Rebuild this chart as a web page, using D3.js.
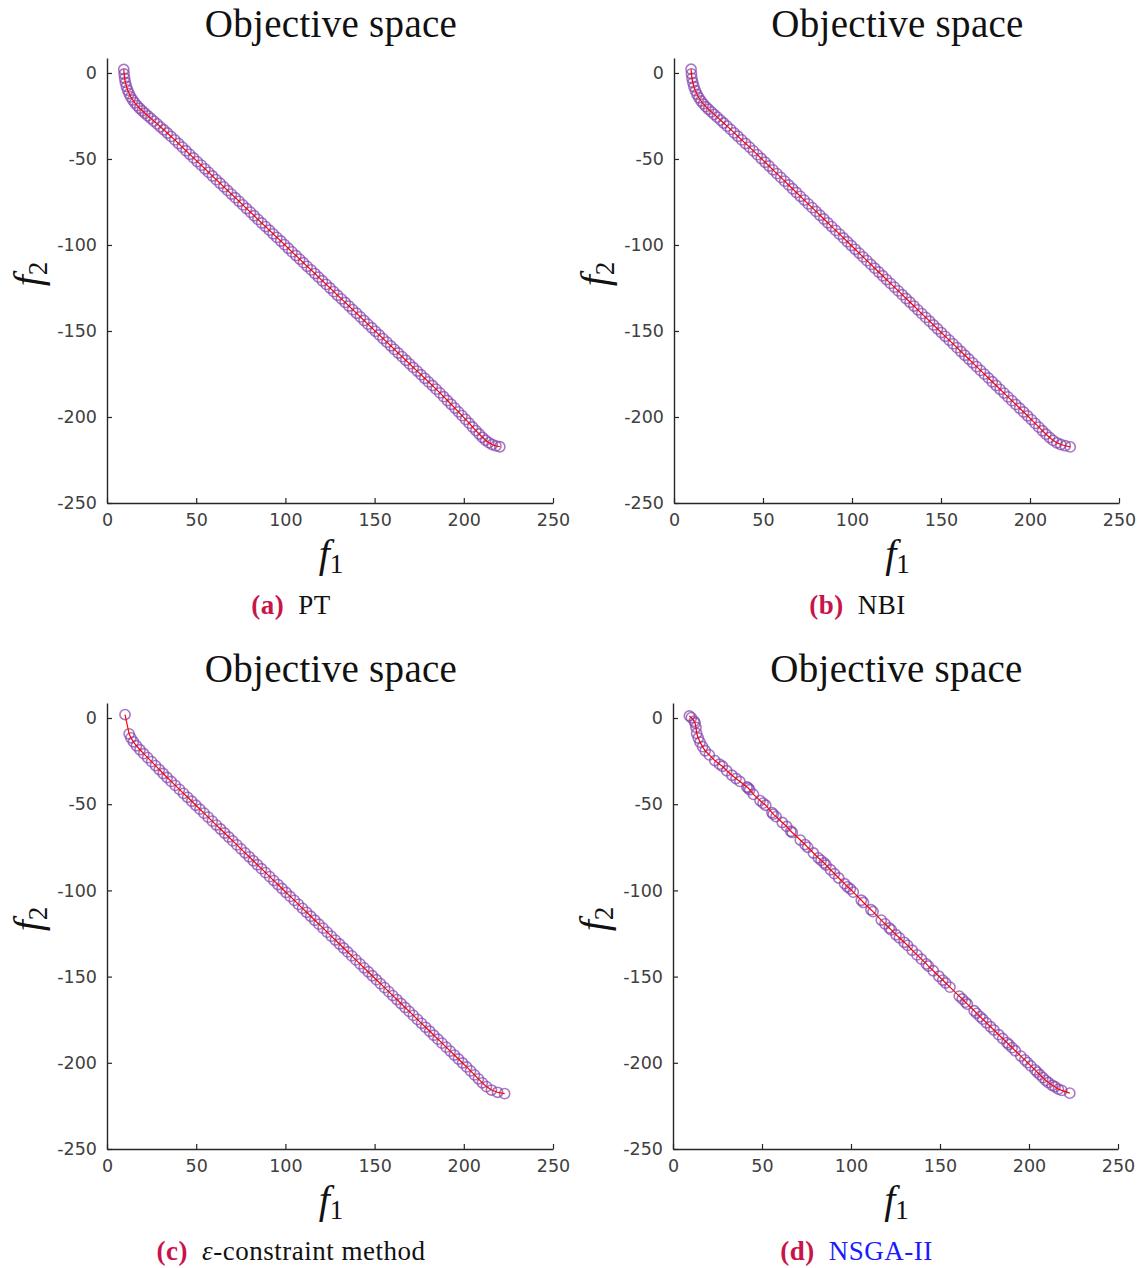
<!DOCTYPE html>
<html>
<head>
<meta charset="utf-8">
<script src="https://cdn.jsdelivr.net/npm/d3@7"></script>
<style>
  html, body { margin: 0; padding: 0; background: #ffffff; }
  svg { display: block; }
</style>
</head>
<body>
<div id="chart"></div>
<script>
// Pareto front approximations (f1, f2) obtained by each method.
const ptFront = [
  [9.4, 2.0], [9.6, -0.6], [9.9, -3.1], [10.3, -5.5], [10.9, -7.8], [11.6, -10.0], [12.4, -12.0],
  [13.3, -13.9], [14.4, -15.7], [15.6, -17.4], [16.9, -19.0], [18.3, -20.5], [19.8, -22.0],
  [21.3, -23.4], [22.9, -24.9], [24.6, -26.4], [26.3, -28.0], [28.1, -29.6], [29.9, -31.3],
  [31.8, -33.0], [33.8, -34.9], [35.9, -36.9], [38.0, -38.9], [40.1, -41.0], [42.2, -43.1],
  [44.3, -45.2], [46.4, -47.3], [48.5, -49.4], [50.6, -51.5], [52.8, -53.6], [54.9, -55.7],
  [57.0, -57.8], [59.1, -59.9], [61.2, -62.0], [63.4, -64.1], [65.5, -66.2], [67.6, -68.3],
  [69.7, -70.4], [71.9, -72.5], [74.0, -74.6], [76.1, -76.7], [78.2, -78.8], [80.4, -80.9],
  [82.5, -83.0], [84.6, -85.1], [86.7, -87.2], [88.9, -89.3], [91.0, -91.4], [93.1, -93.5],
  [95.2, -95.6], [97.4, -97.7], [99.5, -99.8], [101.6, -101.9], [103.7, -104.0], [105.9, -106.1],
  [108.0, -108.2], [110.1, -110.3], [112.2, -112.4], [114.4, -114.5], [116.5, -116.6],
  [118.6, -118.7], [120.7, -120.8], [122.9, -122.9], [125.0, -125.0], [127.1, -127.1],
  [129.2, -129.2], [131.4, -131.3], [133.5, -133.4], [135.6, -135.5], [137.7, -137.6],
  [139.9, -139.7], [142.0, -141.8], [144.1, -143.9], [146.2, -146.0], [148.4, -148.1],
  [150.5, -150.2], [152.6, -152.3], [154.7, -154.4], [156.9, -156.5], [159.0, -158.6],
  [161.1, -160.7], [163.2, -162.8], [165.4, -164.9], [167.5, -167.0], [169.6, -169.1],
  [171.7, -171.2], [173.9, -173.3], [176.0, -175.4], [178.1, -177.5], [180.2, -179.6],
  [182.4, -181.7], [184.5, -183.8], [186.6, -186.0], [188.7, -188.2], [190.8, -190.4],
  [192.9, -192.6], [195.0, -194.8], [197.0, -197.0], [199.0, -199.2], [201.0, -201.4],
  [203.0, -203.6], [204.9, -205.8], [206.8, -207.9], [208.6, -209.9], [210.4, -211.8],
  [212.2, -213.5], [214.0, -214.9], [215.9, -216.0], [218.0, -216.8], [220.2, -217.3]
];

const nbiFront = [
  [9.6, 2.2], [9.8, -0.5], [10.1, -3.1], [10.6, -5.6], [11.2, -8.0], [12.0, -10.3], [12.9, -12.4],
  [14.0, -14.4], [15.2, -16.3], [16.5, -18.0], [17.9, -19.6], [19.4, -21.1], [21.0, -22.6],
  [22.6, -24.1], [24.3, -25.7], [26.1, -27.4], [27.9, -29.1], [29.8, -30.9], [31.8, -32.8],
  [33.8, -34.8], [35.9, -36.8], [38.0, -38.9], [40.2, -41.0], [42.4, -43.1], [44.6, -45.3],
  [46.8, -47.5], [49.0, -49.7], [51.2, -51.9], [53.4, -54.1], [55.6, -56.3], [57.8, -58.5],
  [60.0, -60.7], [62.2, -62.9], [64.4, -65.1], [66.6, -67.3], [68.8, -69.5], [71.0, -71.7],
  [73.2, -73.9], [75.4, -76.1], [77.6, -78.3], [79.8, -80.5], [82.0, -82.7], [84.2, -84.9],
  [86.4, -87.1], [88.6, -89.3], [90.8, -91.5], [93.0, -93.7], [95.2, -95.9], [97.4, -98.1],
  [99.6, -100.3], [101.8, -102.5], [104.0, -104.7], [106.2, -106.9], [108.4, -109.1],
  [110.6, -111.3], [112.8, -113.5], [115.0, -115.7], [117.2, -117.9], [119.4, -120.1],
  [121.6, -122.3], [123.8, -124.5], [126.0, -126.7], [128.2, -128.9], [130.4, -131.1],
  [132.6, -133.3], [134.8, -135.5], [137.0, -137.7], [139.2, -139.9], [141.4, -142.1],
  [143.6, -144.3], [145.8, -146.5], [148.0, -148.7], [150.2, -150.9], [152.4, -153.1],
  [154.6, -155.3], [156.8, -157.5], [159.0, -159.7], [161.2, -161.9], [163.4, -164.1],
  [165.6, -166.3], [167.8, -168.5], [170.0, -170.7], [172.2, -172.9], [174.4, -175.1],
  [176.6, -177.3], [178.8, -179.5], [181.0, -181.7], [183.2, -183.9], [185.4, -186.1],
  [187.6, -188.3], [189.8, -190.5], [192.0, -192.7], [194.2, -194.9], [196.4, -197.1],
  [198.6, -199.3], [200.8, -201.5], [202.9, -203.7], [205.0, -205.9], [207.0, -208.0],
  [209.0, -210.0], [211.0, -211.9], [213.0, -213.6], [215.1, -215.0], [217.3, -216.0],
  [219.8, -216.7], [222.6, -217.4]
];

const epsFront = [
  [10.1, 2.0], [12.4, -9.2], [13.4, -11.5], [14.8, -13.8], [16.5, -16.1], [18.5, -18.4],
  [20.6, -20.7], [22.8, -23.0], [25.0, -25.3], [27.2, -27.6], [29.3, -29.9], [31.5, -32.2],
  [33.7, -34.5], [36.0, -36.8], [38.3, -39.1], [40.6, -41.4], [42.9, -43.7], [45.2, -46.0],
  [47.5, -48.3], [49.8, -50.6], [52.1, -52.9], [54.4, -55.2], [56.7, -57.5], [59.0, -59.8],
  [61.3, -62.1], [63.6, -64.4], [65.9, -66.7], [68.2, -69.0], [70.5, -71.3], [72.8, -73.6],
  [75.1, -75.9], [77.4, -78.2], [79.7, -80.5], [82.0, -82.8], [84.3, -85.1], [86.6, -87.4],
  [88.9, -89.7], [91.2, -92.0], [93.5, -94.3], [95.8, -96.6], [98.1, -98.9], [100.4, -101.2],
  [102.7, -103.5], [105.0, -105.8], [107.3, -108.1], [109.6, -110.4], [111.9, -112.7],
  [114.2, -115.0], [116.5, -117.3], [118.8, -119.6], [121.1, -121.9], [123.4, -124.2],
  [125.7, -126.5], [128.0, -128.8], [130.3, -131.1], [132.6, -133.4], [134.9, -135.7],
  [137.2, -138.0], [139.5, -140.3], [141.8, -142.6], [144.1, -144.9], [146.4, -147.2],
  [148.7, -149.5], [151.0, -151.8], [153.3, -154.1], [155.6, -156.4], [157.9, -158.7],
  [160.2, -161.0], [162.5, -163.3], [164.8, -165.6], [167.1, -167.9], [169.4, -170.2],
  [171.7, -172.5], [174.0, -174.8], [176.3, -177.1], [178.6, -179.4], [180.9, -181.7],
  [183.2, -184.0], [185.5, -186.3], [187.8, -188.6], [190.1, -190.9], [192.4, -193.2],
  [194.7, -195.5], [197.0, -197.8], [199.3, -200.1], [201.6, -202.4], [203.8, -204.7],
  [206.0, -207.0], [208.2, -209.3], [210.4, -211.6], [212.7, -213.8], [215.5, -215.8],
  [218.9, -217.1], [222.9, -217.9]
];

const nsgaFront = [
  [9.2, 1.2], [10.3, 0.2], [11.9, -1.8], [12.4, -2.9], [12.9, -5.4], [13.3, -8.9], [14.2, -11.6],
  [15.2, -14.0], [16.6, -16.6], [18.1, -19.0], [20.4, -21.4], [23.5, -24.7], [26.1, -26.8],
  [27.8, -28.0], [30.2, -30.6], [33.1, -33.2], [35.4, -35.1], [37.6, -36.8], [41.5, -40.0],
  [42.3, -40.6], [43.1, -41.6], [45.2, -44.3], [48.9, -47.9], [50.6, -49.4], [52.1, -50.6],
  [55.6, -54.9], [56.3, -55.8], [57.9, -57.2], [61.4, -60.6], [63.9, -62.9], [66.2, -65.7],
  [67.0, -66.4], [71.5, -70.8], [74.2, -73.4], [75.7, -75.0], [78.9, -78.3], [81.6, -81.1],
  [83.2, -82.6], [84.9, -84.1], [86.0, -85.3], [88.5, -88.0], [90.7, -90.3], [93.1, -92.8],
  [96.4, -96.1], [98.0, -97.9], [99.6, -99.2], [101.3, -101.0], [105.8, -105.7], [107.0, -107.0],
  [111.2, -111.2], [112.4, -112.3], [117.0, -117.2], [119.1, -119.4], [121.5, -121.8],
  [122.6, -122.9], [125.3, -125.7], [127.2, -127.5], [129.9, -130.1], [131.8, -131.9],
  [134.4, -134.7], [137.1, -137.4], [139.6, -139.9], [142.3, -142.6], [143.5, -143.9],
  [146.2, -146.6], [149.4, -149.8], [151.5, -152.0], [153.2, -153.7], [155.6, -156.1],
  [160.8, -161.3], [162.5, -163.0], [164.3, -164.8], [165.4, -166.0], [169.2, -169.8],
  [170.6, -171.3], [172.5, -173.2], [174.0, -174.7], [176.1, -176.8], [178.4, -179.1],
  [180.3, -181.0], [183.0, -183.7], [185.2, -185.9], [187.6, -188.3], [188.7, -189.4],
  [190.5, -191.2], [192.3, -193.0], [195.4, -196.1], [197.6, -198.3], [199.2, -199.9],
  [201.0, -201.8], [203.4, -204.1], [204.6, -205.4], [206.1, -206.9], [207.8, -208.6],
  [209.4, -210.2], [210.9, -211.4], [213.0, -213.0], [214.6, -213.9], [216.5, -215.3],
  [218.4, -216.0], [222.9, -217.6]
];

// Axis ranges and tick labels shared by all panels.
const f1Domain = [0, 250];
const f2Domain = [-250, 8.7];
const f1Ticks = [0, 50, 100, 150, 200, 250];
const f2Ticks = [0, -50, -100, -150, -200, -250];

const panelTitle = "Objective space";
const captionTags = ["(a)", "(b)", "(c)", "(d)"];
const captionNames = ["PT", "NBI", "ε-constraint method", "NSGA-II"];

// Panel layout: plot box in page pixels.
const panels = [
  { data: ptFront,   left: 107, right: 553,  top: 58,  bottom: 503,  tag: 0 },
  { data: nbiFront,  left: 674, right: 1119, top: 58,  bottom: 503,  tag: 1 },
  { data: epsFront,  left: 107, right: 553,  top: 703, bottom: 1149, tag: 2 },
  { data: nsgaFront, left: 673, right: 1118, top: 703, bottom: 1149, tag: 3 }
];

const W = 1142, H = 1268;
const svg = d3.select("#chart").append("svg")
  .attr("width", W).attr("height", H)
  .attr("viewBox", `0 0 ${W} ${H}`);

const serif = "'Liberation Serif', 'DejaVu Serif', serif";
const sans = "'DejaVu Sans', sans-serif";

panels.forEach(p => {
  const x = d3.scaleLinear().domain(f1Domain).range([p.left, p.right]);
  const y = d3.scaleLinear().domain(f2Domain).range([p.bottom, p.top]);
  const g = svg.append("g");
  const cx = (p.left + p.right) / 2;

  // Title
  g.append("text")
    .attr("x", cx + 1).attr("y", p.top - 21)
    .attr("text-anchor", "middle")
    .attr("font-family", serif).attr("font-size", 39)
    .attr("letter-spacing", 0.3)
    .attr("fill", "#111")
    .text(panelTitle);

  // Axes with inward ticks
  const xAxis = d3.axisBottom(x).tickValues(f1Ticks).tickFormat(d => String(d))
    .tickSizeInner(-5).tickSizeOuter(0).tickPadding(11);
  const yAxis = d3.axisLeft(y).tickValues(f2Ticks).tickFormat(d => String(d))
    .tickSizeInner(-5).tickSizeOuter(0).tickPadding(10);

  const gx = g.append("g").attr("transform", `translate(0,${p.bottom})`).call(xAxis);
  const gy = g.append("g").attr("transform", `translate(${p.left},0)`).call(yAxis);
  [gx, gy].forEach(a => {
    a.select(".domain").attr("stroke", "#262626").attr("stroke-width", 1.4);
    a.selectAll(".tick line").attr("stroke", "#262626").attr("stroke-width", 1.2);
    a.selectAll(".tick text")
      .attr("font-family", sans).attr("font-size", 17.5)
      .attr("fill", "#404040");
  });

  // Axis labels
  const xl = g.append("text")
    .attr("x", cx + 1).attr("y", p.bottom + 64)
    .attr("text-anchor", "middle")
    .attr("font-family", serif).attr("fill", "#111");
  xl.append("tspan").attr("font-style", "italic").attr("font-size", 40).text("f");
  xl.append("tspan").attr("font-size", 27).attr("dy", 6).text("1");

  const yl = g.append("text")
    .attr("transform", `translate(${p.left - 66},${p.top + 216}) rotate(-90)`)
    .attr("text-anchor", "middle")
    .attr("font-family", serif).attr("fill", "#111");
  yl.append("tspan").attr("font-style", "italic").attr("font-size", 40).text("f");
  yl.append("tspan").attr("font-size", 27).attr("dy", 6).text("2");

  // Markers
  g.append("g").selectAll("circle")
    .data(p.data)
    .join("circle")
    .attr("cx", d => x(d[0]))
    .attr("cy", d => y(d[1]))
    .attr("r", 5.1)
    .attr("fill", "none")
    .attr("stroke", "#8340a8")
    .attr("stroke-opacity", 0.7)
    .attr("stroke-width", 1.6);

  // Connecting line
  const line = d3.line().x(d => x(d[0])).y(d => y(d[1]));
  g.append("path")
    .datum(p.data)
    .attr("d", line)
    .attr("fill", "none")
    .attr("stroke", "#ff0000")
    .attr("stroke-width", 1.2);

  // Caption
  const cap = g.append("text")
    .attr("x", cx - 39).attr("y", p.bottom + 111)
    .attr("text-anchor", "middle")
    .attr("font-family", serif).attr("font-size", 27)
    .attr("letter-spacing", 0.5);
  cap.append("tspan").attr("font-weight", "bold").attr("fill", "#c8144b")
    .text(captionTags[p.tag]);
  const name = captionNames[p.tag];
  if (p.tag === 2) {
    cap.append("tspan").attr("fill", "#111").text("\u2002");
    cap.append("tspan").attr("fill", "#111").attr("font-style", "italic").text("ε");
    cap.append("tspan").attr("fill", "#111").text(name.slice(1));
  } else {
    cap.append("tspan").attr("fill", p.tag === 3 ? "#1a1aff" : "#111")
      .text("\u2002" + name);
  }
});
</script>
</body>
</html>
